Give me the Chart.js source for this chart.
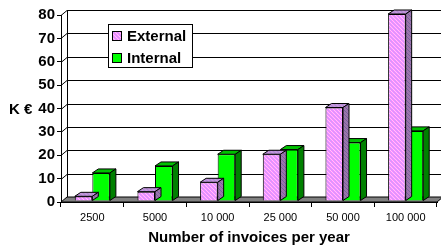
<!DOCTYPE html>
<html>
<head>
<meta charset="utf-8">
<script src="https://cdn.jsdelivr.net/npm/chart.js@4.4.1/dist/chart.umd.min.js"></script>
<style>
html,body{margin:0;padding:0;background:#fff;}
#wrap{width:441px;height:251px;position:relative;}
</style>
</head>
<body>
<div id="wrap"><canvas id="c"></canvas></div>
<script>
const categories = ["2500", "5000", "10 000", "25 000", "50 000", "100 000"];
const externalValues = [2, 4, 8, 20, 40, 80];
const internalValues = [12, 15, 20, 22, 25, 30];
const seriesNames = ["External", "Internal"];
const yTicks = [0, 10, 20, 30, 40, 50, 60, 70, 80];
const yAxisLabel = "K €";
const xAxisTitle = "Number of invoices per year";

const FONT = "'Liberation Sans', Arial, sans-serif";
const WALL = {dx: 6, dy: -5};
const BAR_SHIFT = {dx: 0, dy: -1};
const DEPTH = {dx: 6, dy: -4};

function makePattern(cols) {
  const c = document.createElement('canvas');
  c.width = 4; c.height = 4;
  const g = c.getContext('2d');
  const map = [
    [0,1,0,2],
    [2,0,1,0],
    [0,2,0,1],
    [1,0,2,0]
  ];
  for (let y = 0; y < 4; y++) for (let x = 0; x < 4; x++) {
    g.fillStyle = cols[map[y][x]];
    g.fillRect(x, y, 1, 1);
  }
  return g.createPattern(c, 'repeat');
}
const extFront = makePattern(['#FF80FF', '#C8A8FF', '#FFC8FF']);
const extSide = makePattern(['#A070B0', '#706898', '#9878A8']);
const extTop = makePattern(['#C888D8', '#A098D0', '#C0A0E0']);
const colors = [
  {front: extFront, side: extSide, top: extTop},
  {front: '#00FF00', side: '#008000', top: '#00C000'}
];

const threeD = {
  id: 'threeD',
  beforeDatasetsDraw(chart) {
    const ctx = chart.ctx, a = chart.chartArea, y = chart.scales.y;
    ctx.save();
    ctx.beginPath();
    ctx.moveTo(a.left, a.bottom);
    ctx.lineTo(a.right, a.bottom);
    ctx.lineTo(a.right + WALL.dx, a.bottom + WALL.dy);
    ctx.lineTo(a.left + WALL.dx, a.bottom + WALL.dy);
    ctx.closePath();
    ctx.fillStyle = '#808080';
    ctx.fill();
    ctx.strokeStyle = '#000';
    ctx.lineWidth = 1;
    ctx.stroke();
    for (const v of yTicks) {
      if (v === 0) continue;
      const py = Math.round(y.getPixelForValue(v) + WALL.dy) + 0.5;
      ctx.beginPath();
      ctx.moveTo(a.left + WALL.dx, py);
      ctx.lineTo(a.right + WALL.dx + 10, py);
      ctx.stroke();
      ctx.beginPath();
      ctx.moveTo(a.left, py - WALL.dy);
      ctx.lineTo(a.left + WALL.dx, py);
      ctx.stroke();
    }
    const lx = Math.round(a.left + WALL.dx) + 0.5;
    ctx.beginPath();
    ctx.moveTo(lx, y.getPixelForValue(80) + WALL.dy);
    ctx.lineTo(lx, a.bottom + WALL.dy);
    ctx.stroke();
    ctx.restore();
    ctx.save();
    ctx.translate(BAR_SHIFT.dx, BAR_SHIFT.dy);
  },
  afterDatasetDraw(chart, args) {
    const ctx = chart.ctx;
    const col = colors[args.index];
    ctx.save();
    ctx.strokeStyle = '#000';
    ctx.lineWidth = 1;
    for (const el of args.meta.data) {
      const l = el.x - el.width / 2, r = el.x + el.width / 2, t = el.y, b = el.base;
      ctx.beginPath();
      ctx.moveTo(l, t); ctx.lineTo(r, t);
      ctx.lineTo(r + DEPTH.dx, t + DEPTH.dy); ctx.lineTo(l + DEPTH.dx, t + DEPTH.dy);
      ctx.closePath();
      ctx.fillStyle = col.top; ctx.fill(); ctx.stroke();
      ctx.beginPath();
      ctx.moveTo(r, t); ctx.lineTo(r + DEPTH.dx, t + DEPTH.dy);
      ctx.lineTo(r + DEPTH.dx, b + DEPTH.dy); ctx.lineTo(r, b);
      ctx.closePath();
      ctx.fillStyle = col.side; ctx.fill(); ctx.stroke();
    }
    ctx.restore();
  },
  afterDatasetsDraw(chart) {
    chart.ctx.restore();
  },
  afterDraw(chart) {
    const ctx = chart.ctx;
    ctx.save();
    ctx.fillStyle = '#000';
    ctx.font = "bold 15px " + FONT;
    ctx.textBaseline = 'middle';
    ctx.textAlign = 'left';
    ctx.fillText(yAxisLabel, 9, chart.scales.y.getPixelForValue(40) + 1);
    const bx = 108.5, by = 24.5, bw = 84, bh = 43;
    ctx.fillStyle = '#fff';
    ctx.fillRect(bx, by, bw, bh);
    ctx.strokeStyle = '#000';
    ctx.lineWidth = 1;
    ctx.strokeRect(bx, by, bw, bh);
    const itemsY = [36, 58];
    itemsY.forEach((iy, i) => {
      ctx.fillStyle = colors[i].front;
      ctx.fillRect(112, iy - 4.5, 9, 9);
      ctx.strokeStyle = '#000';
      ctx.strokeRect(112.5, iy - 4.5, 9, 9);
      ctx.fillStyle = '#000';
      ctx.font = "bold 15px " + FONT;
      ctx.textBaseline = 'middle';
      ctx.fillText(seriesNames[i], 127, iy + 1);
    });
    ctx.restore();
  }
};

new Chart(document.getElementById('c'), {
  type: 'bar',
  data: {
    labels: categories,
    datasets: [
      {label: seriesNames[0], data: externalValues, backgroundColor: extFront, borderColor: '#000', borderWidth: 1, clip: false},
      {label: seriesNames[1], data: internalValues, backgroundColor: '#00FF00', borderColor: '#000', borderWidth: 1, clip: false}
    ]
  },
  options: {
    responsive: true,
    maintainAspectRatio: false,
    animation: false,
    events: [],
    layout: {padding: {top: 15, right: 4, left: 0, bottom: 0}},
    datasets: {bar: {categoryPercentage: 0.56, barPercentage: 1.0}},
    plugins: {legend: {display: false}, tooltip: {enabled: false}},
    scales: {
      y: {
        min: 0, max: 80,
        afterFit(s) { s.width = 61; },
        ticks: {stepSize: 10, color: '#000', font: {family: FONT, size: 15, weight: 'bold'}, padding: 2},
        grid: {display: true, drawOnChartArea: false, drawTicks: true, tickLength: 4, color: '#000'},
        border: {display: true, color: '#000', width: 1}
      },
      x: {
        afterFit(s) { s.height = 49; },
        ticks: {color: '#000', font: {family: FONT, size: 11}, padding: 4, maxRotation: 0},
        grid: {display: true, offset: true, drawOnChartArea: false, drawTicks: true, tickLength: 5, color: '#000'},
        border: {display: true, color: '#000', width: 1},
        title: {display: true, text: xAxisTitle, color: '#000', font: {family: FONT, size: 15, weight: 'bold'}, padding: {top: 4, bottom: 4}}
      }
    }
  },
  plugins: [threeD]
});
</script>
</body>
</html>
